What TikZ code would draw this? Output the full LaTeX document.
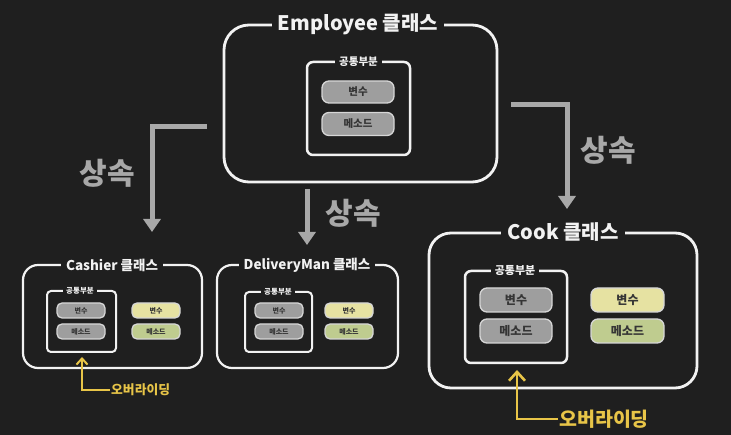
\documentclass[tikz,border=0pt]{standalone}
\usepackage{fontspec}
\setmainfont{Noto Sans CJK KR}
\usetikzlibrary{arrows.meta}
\definecolor{bg}{HTML}{1F1F1F}
\definecolor{fg}{HTML}{F2F2F2}
\definecolor{inh}{HTML}{A8A8A8}
\definecolor{pillgray}{HTML}{9E9E9E}
\definecolor{pillline}{HTML}{D6D6D6}
\definecolor{pilltext}{HTML}{353535}
\definecolor{pillyel}{HTML}{E6E2A2}
\definecolor{pillgrn}{HTML}{BFCC8F}
\definecolor{ovr}{HTML}{E8C548}
\tikzset{
  box/.style={draw=fg, rounded corners=#1, inner sep=0pt},
  titlebox/.style={fill=bg, text=fg, inner sep=0pt, inner xsep=6pt, font=\bfseries\fontsize{#1}{#1}\selectfont},
  pill/.style={draw=pillline, line width=1.3pt, rounded corners=#1, inner sep=0pt, text=pilltext},
  inharrow/.style={draw=inh, line width=5pt, -{Triangle[width=17pt,length=13pt]}},
  inhlabel/.style={text=inh, font=\bfseries\fontsize{30}{30}\selectfont},
  ovrarrow/.style={draw=ovr, -{Straight Barb[width=#1,length=0.55*#1]}},
  ovrlabel/.style={text=ovr, anchor=west, inner sep=1pt},
}
\begin{document}
\begin{tikzpicture}[x=1pt,y=-1pt]
\path[fill=bg] (0,0) rectangle (731,435);

% ---------- Employee ----------
\node[box=25pt, line width=2.8pt, minimum width=273pt, minimum height=157pt] (emp) at (360.5,103.5) {};
\node[titlebox=20] (empT) at (358,24) {Employee 클래스};
\node[box=6pt, line width=2.5pt, minimum width=103pt, minimum height=93pt] (empI) at (358.5,108.5) {};
\node[titlebox=10.5, inner xsep=4pt] (empL) at (358.5,62) {공통부분};
\node[pill=7pt, fill=pillgray, minimum width=72pt, minimum height=22pt, font=\bfseries\fontsize{10.5}{10.5}\selectfont] (empV) at (358,92) {변수};
\node[pill=7pt, fill=pillgray, minimum width=72pt, minimum height=23pt, font=\bfseries\fontsize{10.5}{10.5}\selectfont] (empM) at (358,124) {메소드};

% ---------- Cashier ----------
\node[box=15pt, line width=2.2pt, minimum width=179pt, minimum height=103pt] (cas) at (112.5,316.5) {};
\node[titlebox=13.5, inner xsep=5pt] (casT) at (112,265) {Cashier 클래스};
\node[box=4pt, line width=2pt, minimum width=69pt, minimum height=61pt] (casI) at (81.5,321.5) {};
\node[titlebox=7.5, inner xsep=3pt] (casL) at (80,291) {공통부분};
\node[pill=5pt, fill=pillgray, minimum width=48pt, minimum height=15pt, font=\bfseries\fontsize{7}{7}\selectfont] (casV) at (81,310.5) {변수};
\node[pill=5pt, fill=pillgray, minimum width=48pt, minimum height=15pt, font=\bfseries\fontsize{7}{7}\selectfont] (casM) at (81,331.5) {메소드};
\node[pill=5pt, fill=pillyel, minimum width=48pt, minimum height=15pt, font=\bfseries\fontsize{7}{7}\selectfont] (casV2) at (156,310.5) {변수};
\node[pill=5pt, fill=pillgrn, minimum width=48pt, minimum height=15pt, font=\bfseries\fontsize{7}{7}\selectfont] (casM2) at (156,331.5) {메소드};
\coordinate (casTip) at (82,357);
\coordinate (casBend) at (82,390);
\node[ovrlabel, font=\bfseries\fontsize{12.8}{12.8}\selectfont] (casO) at (110,390) {오버라이딩};
\draw[ovrarrow=11pt, line width=2pt] (casO.west) -- (casBend) -- (casTip);

% ---------- DeliveryMan ----------
\node[box=15pt, line width=2.2pt, minimum width=181pt, minimum height=103pt] (del) at (307.5,316.5) {};
\node[titlebox=13.5, inner xsep=5pt] (delT) at (307,265) {DeliveryMan 클래스};
\node[box=4pt, line width=2pt, minimum width=67pt, minimum height=60pt] (delI) at (278.5,322) {};
\node[titlebox=7.5, inner xsep=3pt] (delL) at (278,292) {공통부분};
\node[pill=5pt, fill=pillgray, minimum width=48pt, minimum height=15pt, font=\bfseries\fontsize{7}{7}\selectfont] (delV) at (279,310.5) {변수};
\node[pill=5pt, fill=pillgray, minimum width=48pt, minimum height=15pt, font=\bfseries\fontsize{7}{7}\selectfont] (delM) at (279,331.5) {메소드};
\node[pill=5pt, fill=pillyel, minimum width=48pt, minimum height=15pt, font=\bfseries\fontsize{7}{7}\selectfont] (delV2) at (349,310.5) {변수};
\node[pill=5pt, fill=pillgrn, minimum width=48pt, minimum height=15pt, font=\bfseries\fontsize{7}{7}\selectfont] (delM2) at (349,331.5) {메소드};

% ---------- Cook ----------
\node[box=22pt, line width=2.8pt, minimum width=268pt, minimum height=155pt] (cook) at (563,310.5) {};
\node[titlebox=20] (cookT) at (563,232) {Cook 클래스};
\node[box=6pt, line width=2.5pt, minimum width=102pt, minimum height=92pt] (cookI) at (516,317) {};
\node[titlebox=11, inner xsep=4pt] (cookL) at (515,271) {공통부분};
\node[pill=7pt, fill=pillgray, minimum width=72pt, minimum height=24pt, font=\bfseries\fontsize{12}{12}\selectfont] (cookV) at (516,300) {변수};
\node[pill=7pt, fill=pillgray, minimum width=72pt, minimum height=24pt, font=\bfseries\fontsize{12}{12}\selectfont] (cookM) at (516,331) {메소드};
\node[pill=7pt, fill=pillyel, minimum width=73pt, minimum height=24pt, font=\bfseries\fontsize{12}{12}\selectfont] (cookV2) at (627.5,300) {변수};
\node[pill=7pt, fill=pillgrn, minimum width=73pt, minimum height=24pt, font=\bfseries\fontsize{12}{12}\selectfont] (cookM2) at (627.5,331) {메소드};
\coordinate (cookTip) at (517,370);
\coordinate (cookBend) at (517,419);
\node[ovrlabel, font=\bfseries\fontsize{19.5}{19.5}\selectfont] (cookO) at (558,419) {오버라이딩};
\draw[ovrarrow=16pt, line width=2.6pt] (cookO.west) -- (cookBend) -- (cookTip);

% ---------- inheritance arrows ----------
\coordinate (aL) at (207,127);
\coordinate (aLend) at (152,232);
\draw[inharrow] (aL) -| (aLend);
\node[inhlabel] (lL) at (107,173) {상속};

\coordinate (aM) at (307,189);
\coordinate (aMend) at (307,245);
\draw[inharrow] (aM) -- (aMend);
\node[inhlabel] (lM) at (353,213) {상속};

\coordinate (aR) at (511,105);
\coordinate (aRend) at (567,209);
\draw[inharrow] (aR) -| (aRend);
\node[inhlabel] (lR) at (608,150) {상속};
\end{tikzpicture}
\end{document}
